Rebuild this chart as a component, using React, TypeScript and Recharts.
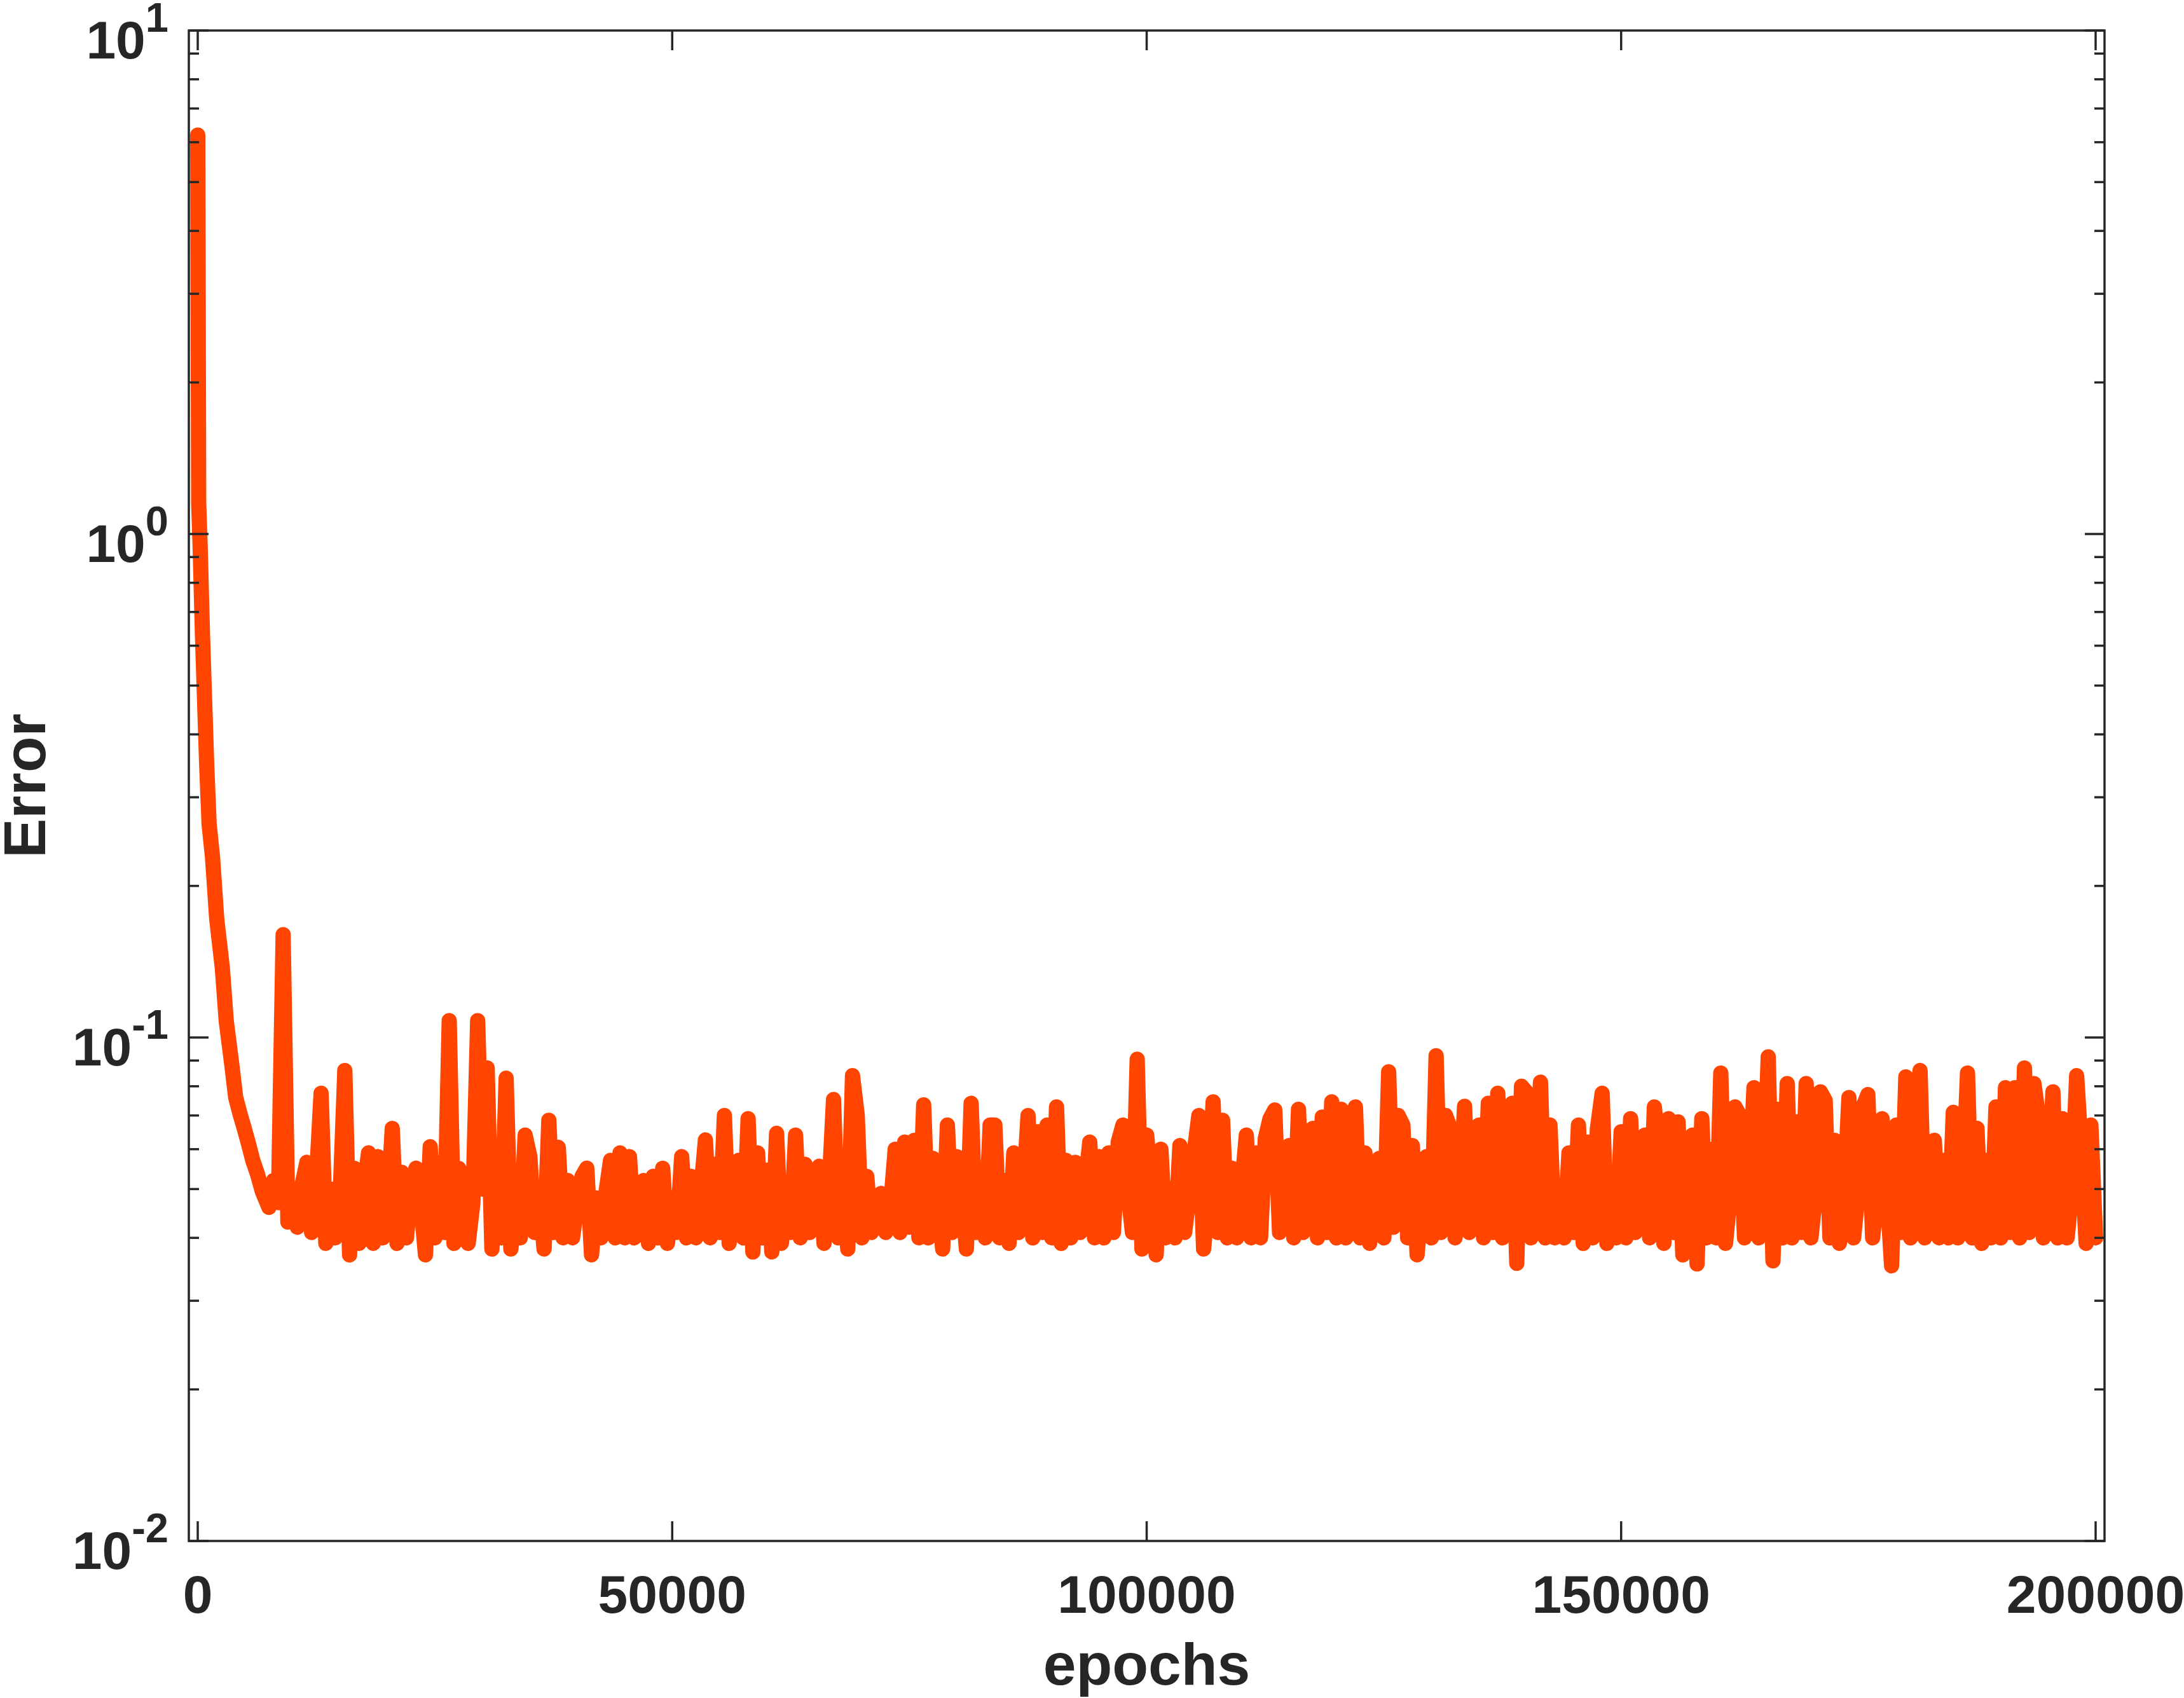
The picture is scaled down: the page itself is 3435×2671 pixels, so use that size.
import React from 'react';
import { LineChart, Line, XAxis, YAxis, ReferenceArea } from 'recharts';

// ---------- layout constants ----------
const W = 3435;
const H = 2671;
const PLOT_L = 297;
const PLOT_R = 3310;
const PLOT_T = 48;
const PLOT_B = 2424;
const X_AXIS_H = 100;
const Y_AXIS_W = 200;
const INK = '#262626';
const LINE_COLOR = '#FF4500';
const LINE_W = 24;
const FONT = '"Liberation Sans", Arial, Helvetica, sans-serif';

// ---------- axes ----------
const xDomain = [-938, 200938];
const xTicks = [0, 50000, 100000, 150000, 200000];
const xTickLabels = ['0', '50000', '100000', '150000', '200000'];
const yDomain = [0.01, 10];
const yMajorTicks = [0.01, 0.1, 1, 10];
const yMajorExponents = ['-2', '-1', '0', '1'];
const yMinorTicks = [
  0.02, 0.03, 0.04, 0.05, 0.06, 0.07, 0.08, 0.09,
  0.2, 0.3, 0.4, 0.5, 0.6, 0.7, 0.8, 0.9,
  2, 3, 4, 5, 6, 7, 8, 9,
];

// ---------- data ----------
const earlyEpochs = [0, 100, 250, 500, 940, 1200, 1560, 2000, 2600, 3000, 3600, 4000, 4500, 4800, 5300, 5800, 6300, 6800];
const earlyError = [6.2, 1.15, 0.95, 0.63, 0.35, 0.265, 0.228, 0.172, 0.137, 0.108, 0.088, 0.076, 0.07, 0.067, 0.062, 0.057, 0.0535, 0.0495];

const GRID_STEP = 500;

const segAStart = 7500;
const segA = [
  0.046, 0.052, 0.047, 0.16, 0.043,
  0.047, 0.042, 0.051, 0.0565, 0.041, 0.052, 0.0775, 0.039, 0.05, 0.04,
  0.048, 0.086, 0.037, 0.055, 0.039, 0.05, 0.059, 0.039, 0.058, 0.04,
  0.045, 0.066, 0.039, 0.054, 0.04, 0.051, 0.055, 0.047, 0.037, 0.0607,
  0.04, 0.0565, 0.041, 0.108, 0.039, 0.055, 0.049, 0.039, 0.047, 0.108,
  0.05, 0.087, 0.038, 0.056, 0.04, 0.083, 0.038, 0.05, 0.04, 0.064,
  0.058, 0.041, 0.048, 0.038, 0.0685, 0.041, 0.0605, 0.04, 0.052, 0.04,
  0.047, 0.053, 0.055, 0.037, 0.048, 0.04, 0.049, 0.057, 0.04, 0.059,
  0.04, 0.058, 0.04, 0.049, 0.052, 0.039, 0.053, 0.04, 0.055, 0.039,
];

const segBStart = 50000;
const segB = [
  0.048, 0.041, 0.058, 0.04, 0.053, 0.04, 0.049, 0.0626, 0.04, 0.056,
  0.041, 0.07, 0.039, 0.049, 0.057, 0.04, 0.069, 0.0375, 0.059, 0.04,
  0.0545, 0.0375, 0.0645, 0.039, 0.048, 0.041, 0.064, 0.04, 0.056, 0.041,
  0.048, 0.0555, 0.039, 0.049, 0.0753, 0.04, 0.05, 0.038, 0.084, 0.07,
  0.04, 0.053, 0.041, 0.047, 0.049, 0.041, 0.046, 0.06, 0.041, 0.062,
  0.042, 0.0625, 0.04, 0.0735, 0.04, 0.0575, 0.049, 0.038, 0.067, 0.041,
  0.058, 0.049, 0.038, 0.074, 0.041, 0.05, 0.04, 0.067, 0.067, 0.04,
  0.052, 0.039, 0.059, 0.041, 0.049, 0.07, 0.04, 0.065, 0.041, 0.067,
  0.04, 0.0728, 0.039, 0.057, 0.04, 0.0565, 0.041, 0.05, 0.062, 0.04,
  0.058, 0.04, 0.059, 0.041, 0.062, 0.067, 0.05, 0.041, 0.0905, 0.038,
];

const segCStart = 100000;
const segC = [
  0.064, 0.05, 0.037, 0.06, 0.04, 0.05, 0.04, 0.061, 0.041, 0.049,
  0.059, 0.07, 0.038, 0.048, 0.0745, 0.041, 0.0685, 0.04, 0.055, 0.04,
  0.05, 0.064, 0.04, 0.059, 0.04, 0.063, 0.069, 0.0718, 0.041, 0.05,
  0.061, 0.04, 0.072, 0.041, 0.048, 0.066, 0.04, 0.0695, 0.041, 0.0745,
  0.04, 0.072, 0.04, 0.05, 0.0728, 0.04, 0.059, 0.039, 0.049, 0.0575,
  0.04, 0.0855, 0.042, 0.07, 0.067, 0.04, 0.061, 0.037, 0.049, 0.058,
  0.04, 0.092, 0.041, 0.07, 0.066, 0.04, 0.048, 0.073, 0.041, 0.05,
  0.067, 0.04, 0.074, 0.041, 0.0775, 0.04, 0.05, 0.074, 0.0356, 0.08,
  0.078, 0.04, 0.05, 0.0815, 0.04, 0.067, 0.04, 0.05, 0.04, 0.059,
  0.041, 0.067, 0.039, 0.062, 0.04, 0.066, 0.0775, 0.039, 0.048, 0.04,
];

const segDStart = 150000;
const segD = [
  0.065, 0.04, 0.069, 0.041, 0.05, 0.064, 0.04, 0.0728, 0.059, 0.039,
  0.069, 0.041, 0.068, 0.037, 0.048, 0.064, 0.0355, 0.069, 0.04, 0.06,
  0.04, 0.085, 0.039, 0.049, 0.0728, 0.07, 0.04, 0.05, 0.0795, 0.04,
  0.05, 0.0915, 0.036, 0.072, 0.04, 0.081, 0.04, 0.068, 0.041, 0.081,
  0.04, 0.049, 0.078, 0.075, 0.04, 0.0625, 0.039, 0.048, 0.076, 0.04,
  0.05, 0.073, 0.077, 0.04, 0.049, 0.069, 0.05, 0.0352, 0.067, 0.041,
  0.0835, 0.04, 0.072, 0.086, 0.04, 0.05, 0.0625, 0.04, 0.057, 0.04,
  0.071, 0.04, 0.05, 0.085, 0.04, 0.066, 0.039, 0.057, 0.04, 0.0728,
  0.04, 0.0795, 0.041, 0.0795, 0.04, 0.087, 0.041, 0.081, 0.069, 0.04,
  0.05, 0.078, 0.04, 0.069, 0.04, 0.05, 0.084, 0.059, 0.039, 0.067, 0.04,
];

const segments: [number, number[]][] = [
  [segAStart, segA],
  [segBStart, segB],
  [segCStart, segC],
  [segDStart, segD],
];

const data = [
  ...earlyEpochs.map((e, i) => ({ epoch: e, error: earlyError[i] })),
  ...segments.flatMap(([start, vals]) =>
    vals.map((v, i) => ({ epoch: start + i * GRID_STEP, error: v }))
  ),
];

const yAllTicks = [...yMajorTicks, ...yMinorTicks].sort((a, b) => a - b);

const MAJOR_LEN = 31;
const MINOR_LEN = 16;
const TICK_W = 3.5;

function XTick(props: any) {
  const { x, y, payload } = props;
  const idx = xTicks.indexOf(payload.value);
  const plotH = PLOT_B - PLOT_T;
  return (
    <g>
      <line x1={x} x2={x} y1={y} y2={y - MAJOR_LEN} stroke={INK} strokeWidth={TICK_W} />
      <line x1={x} x2={x} y1={y - plotH} y2={y - plotH + MAJOR_LEN} stroke={INK} strokeWidth={TICK_W} />
      <text x={x} y={y + 113} textAnchor="middle" fontFamily={FONT} fontWeight="bold" fontSize={84} fill={INK}>
        {idx >= 0 ? xTickLabels[idx] : ''}
      </text>
    </g>
  );
}

function YTick(props: any) {
  const { x, y, payload } = props;
  const v = payload.value;
  const majorIdx = yMajorTicks.indexOf(v);
  const isMajor = majorIdx >= 0;
  const len = isMajor ? MAJOR_LEN : MINOR_LEN;
  const plotW = PLOT_R - PLOT_L;
  return (
    <g>
      <line x1={x} x2={x + len} y1={y} y2={y} stroke={INK} strokeWidth={TICK_W} />
      <line x1={x + plotW} x2={x + plotW - len} y1={y} y2={y} stroke={INK} strokeWidth={TICK_W} />
      {isMajor && (
        <text x={x - 32} y={y + 44} textAnchor="end" fontFamily={FONT} fontWeight="bold" fontSize={84} fill={INK}>
          <tspan>10</tspan>
          <tspan dy={-42} fontSize={65}>
            {yMajorExponents[majorIdx]}
          </tspan>
        </text>
      )}
    </g>
  );
}

const xLabel = () => (
  <text x={(PLOT_L + PLOT_R) / 2} y={2650} textAnchor="middle" fontFamily={FONT} fontWeight="bold" fontSize={93} fill={INK}>
    epochs
  </text>
);

const yLabel = () => (
  <text
    x={71}
    y={(PLOT_T + PLOT_B) / 2}
    transform={`rotate(-90, 71, ${(PLOT_T + PLOT_B) / 2})`}
    textAnchor="middle"
    fontFamily={FONT}
    fontWeight="bold"
    fontSize={93}
    fill={INK}
  >
    Error
  </text>
);

export default function App() {
  return (
    <div style={{ position: 'absolute', left: 0, top: 0, width: W, height: H, background: '#ffffff' }}>
      <LineChart
        width={W}
        height={H}
        data={data}
        margin={{ top: PLOT_T, right: W - PLOT_R, bottom: H - PLOT_B - X_AXIS_H, left: PLOT_L - Y_AXIS_W }}
      >
        <XAxis
          dataKey="epoch"
          type="number"
          domain={xDomain}
          allowDataOverflow
          ticks={xTicks}
          interval={0}
          height={X_AXIS_H}
          axisLine={false}
          tickLine={false}
          tickSize={0}
          tickMargin={0}
          tick={XTick}
          label={xLabel}
        />
        <YAxis
          type="number"
          scale="log"
          domain={yDomain}
          allowDataOverflow
          ticks={yAllTicks}
          interval={0}
          width={Y_AXIS_W}
          axisLine={false}
          tickLine={false}
          tickSize={0}
          tickMargin={0}
          tick={YTick}
          label={yLabel}
        />
        <ReferenceArea
          x1={xDomain[0]}
          x2={xDomain[1]}
          y1={yDomain[0]}
          y2={yDomain[1]}
          fill="none"
          fillOpacity={0}
          stroke={INK}
          strokeWidth={3.5}
          ifOverflow="visible"
        />
        <Line
          dataKey="error"
          type="linear"
          stroke={LINE_COLOR}
          strokeWidth={LINE_W}
          strokeLinejoin="round"
          strokeLinecap="round"
          dot={false}
          activeDot={false}
          isAnimationActive={false}
        />
      </LineChart>
    </div>
  );
}
